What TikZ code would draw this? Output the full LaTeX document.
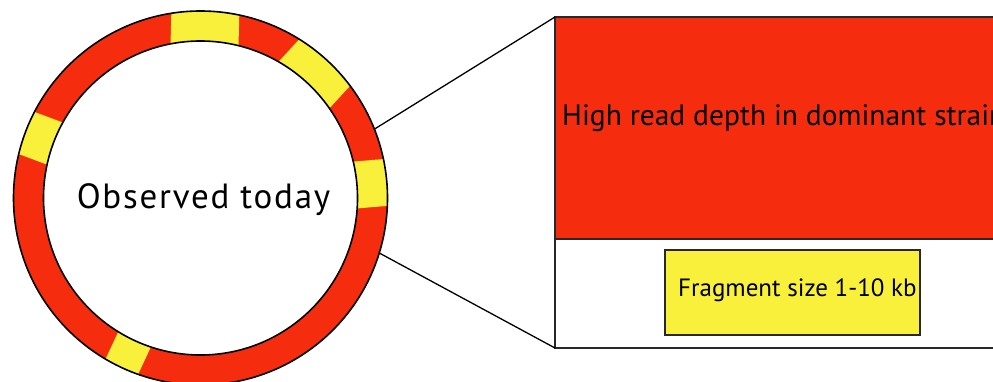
\documentclass[tikz,border=0pt]{standalone}
\usepackage{fontspec}
\setmainfont{PT Sans}
\newfontfamily\widesans[LetterSpace=5]{PT Sans}
\usetikzlibrary{calc}
\definecolor{plasmidred}{RGB}{246,44,14}
\definecolor{fragyellow}{RGB}{248,240,58}
\definecolor{edgegrey}{RGB}{40,40,40}
\tikzset{
  ringline/.style={draw=black, line width=1.6pt},
  linkline/.style={draw=black, line width=1.3pt},
  panelline/.style={draw=edgegrey, line width=1.2pt},
}
\begin{document}
\begin{tikzpicture}[x=1pt, y=1pt]
\useasboundingbox (0,0) rectangle (993,381);
\clip (0,0) rectangle (993,381);
\coordinate (c) at (200.5,183);
% red ring with yellow fragments
\fill[plasmidred] (c) circle[radius=187pt];
\begin{scope}
  \clip (c) circle[radius=187pt];
  \foreach \ang/\w in {88.5/68, 47.5/69, 4.8/47, 159.5/45, 245/36} {
    \begin{scope}[shift={(c)}, rotate=\ang]
      \fill[fragyellow] (0,-\w/2) rectangle (220,\w/2);
    \end{scope}
  }
\end{scope}
\fill[white] (c) circle[radius=157pt];
\draw[ringline] (c) circle[radius=187pt];
\draw[ringline] (c) circle[radius=157pt];
\node[anchor=base, inner sep=0pt, font=\widesans\fontsize{35}{40}\selectfont] (obs) at (203.5,173) {Observed today};
% zoomed panel
\coordinate (ptl) at (555,364);
\coordinate (pbl) at (555,33);
\fill[plasmidred] (555,364) rectangle (1010,142);
\draw[panelline] (1010,364) -- (ptl) -- (pbl) -- (1010,33);
\draw[panelline] (555,142) -- (1010,142);
\node[anchor=base west, inner sep=0pt, font=\fontsize{29.5}{35}\selectfont] (depth) at (562,256) {High read depth in dominant strain};
\node[panelline, fill=fragyellow, minimum width=255pt, minimum height=85pt, inner sep=0pt] (frag) at (792.5,88.5) {};
\node[anchor=base west, inner sep=0pt, font=\fontsize{25}{30}\selectfont] (fragtxt) at (678,84.3) {Fragment size 1-10 kb};
% connectors from ring to panel
\coordinate (ra) at ($(c)+(21.6:187pt)$);
\coordinate (rb) at ($(c)+(-17.1:187pt)$);
\draw[linkline] (ra) -- (ptl);
\draw[linkline] (rb) -- (pbl);
\end{tikzpicture}
\end{document}
